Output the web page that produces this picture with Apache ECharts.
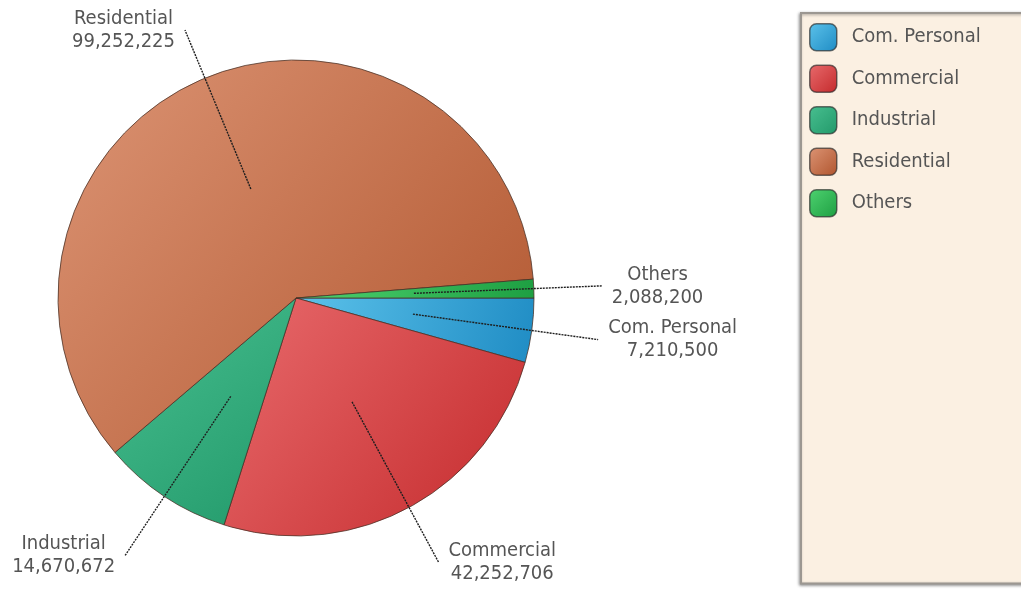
<!DOCTYPE html>
<html>
<head>
<meta charset="utf-8">
<script src="https://cdn.jsdelivr.net/npm/echarts@6/dist/echarts.min.js"></script>
<style>
html,body{margin:0;padding:0;background:#fff;}
#chart{width:1021px;height:594px;}
</style>
</head>
<body>
<div id="chart"></div>
<script>
// ---- data ----
const categories = ['Com. Personal', 'Commercial', 'Industrial', 'Residential', 'Others'];
const values = [7210500, 42252706, 14670672, 99252225, 2088200];
const legendOrder = ['Com. Personal', 'Commercial', 'Industrial', 'Residential', 'Others'];

// ---- style ----
const sliceColors = [
  ['#5cc2ea', '#1f8cc4'],
  ['#e86a6c', '#c42a2c'],
  ['#48bf90', '#22996a'],
  ['#dc9474', '#b0552e'],
  ['#4ed270', '#1e9f42']
];
const lineReach = [187, 182, 191, 172, 188];

function grad(c) {
  return new echarts.graphic.LinearGradient(0, 0, 1, 1, [
    { offset: 0, color: c[0] }, { offset: 1, color: c[1] }
  ]);
}
const fontFam = '"DejaVu Sans Condensed", "DejaVu Sans", sans-serif';

const chart = echarts.init(document.getElementById('chart'), null, { renderer: 'canvas' });

const outerData = categories.map((n, i) => ({
  name: n, value: values[i],
  itemStyle: { color: grad(sliceColors[i]) }
}));
const innerData = categories.map((n, i) => ({
  name: n, value: values[i],
  labelLine: { length: lineReach[i] }
}));

chart.setOption({
  animation: false,
  backgroundColor: '#ffffff',
  legend: {
    orient: 'vertical',
    left: 801, top: 13,
    data: legendOrder,
    padding: [10, 80, 366, 8],
    itemWidth: 27, itemHeight: 27, itemGap: 13,
    icon: 'roundRect',
    backgroundColor: '#fbf0e2',
    borderColor: '#9c9791',
    borderWidth: 2,
    shadowColor: 'rgba(0,0,0,0.35)',
    shadowBlur: 3, shadowOffsetX: -1, shadowOffsetY: 1,
    itemStyle: { borderColor: 'rgba(40,40,40,0.65)', borderWidth: 1.5 },
    textStyle: { fontFamily: fontFam, fontSize: 20, color: '#555', padding: [0, 0, 0, 10] },
    selectedMode: false
  },
  series: [
    {
      type: 'pie',
      center: [296, 298],
      radius: [0, 238],
      startAngle: 0,
      clockwise: true,
      avoidLabelOverlap: false,
      label: { show: false },
      labelLine: { show: false },
      itemStyle: { borderColor: 'rgba(70,45,35,0.75)', borderWidth: 1 },
      emphasis: { disabled: true },
      silent: true,
      data: outerData
    },
    {
      type: 'pie',
      center: [296, 298],
      radius: [0, 118],
      startAngle: 0,
      clockwise: true,
      z: 5,
      avoidLabelOverlap: false,
      silent: true,
      legendHoverLink: false,
      emphasis: { disabled: true },
      itemStyle: { color: 'rgba(0,0,0,0)', borderWidth: 0 },
      label: {
        show: true,
        position: 'outside',
        distanceToLabelLine: 10,
        formatter: p => '{t|' + p.name + '}\n{t|' + p.value.toLocaleString('en-US') + '}',
        rich: {
          t: { fontFamily: fontFam, fontSize: 20, lineHeight: 23, color: '#555555', align: 'center' }
        }
      },
      labelLine: {
        show: true,
        length2: 0,
        smooth: false,
        lineStyle: { color: '#1e1e1e', width: 1.4, type: [2, 1] }
      },
      data: innerData
    }
  ]
});
</script>
</body>
</html>
